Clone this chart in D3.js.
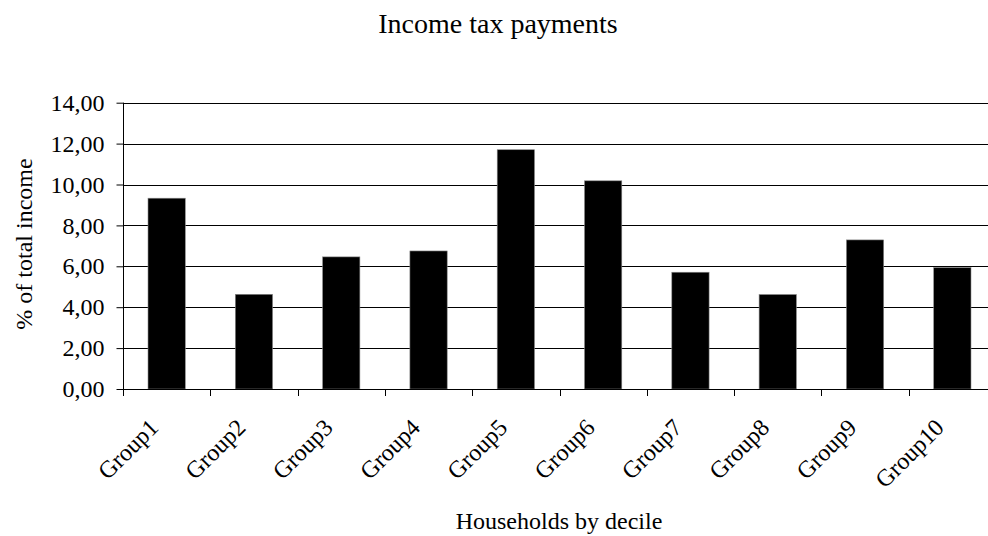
<!DOCTYPE html>
<html>
<head>
<meta charset="utf-8">
<script src="https://cdn.jsdelivr.net/npm/d3@7"></script>
<style>
  html, body { margin: 0; padding: 0; background: #fff; }
  svg { display: block; }
  svg text { font-family: 'Liberation Serif', 'Times New Roman', Times, 'DejaVu Serif', serif !important; }
</style>
</head>
<body>
<svg id="chart" width="988" height="536"></svg>
<script>
const categories = ["Group1","Group2","Group3","Group4","Group5","Group6","Group7","Group8","Group9","Group10"];
const values = [9.33, 4.63, 6.46, 6.75, 11.70, 10.18, 5.71, 4.62, 7.29, 5.94];
const yTicks = [0, 2, 4, 6, 8, 10, 12, 14];
const titleText = "Income tax payments";
const xTitle = "Households by decile";
const yTitle = "% of total income";

(function () {
const FONT = "'Liberation Serif', 'Times New Roman', Times, 'DejaVu Serif', serif";
const svg = d3.select("#chart");
const pLeft = 123, pRight = 996, pTop = 102.7, pBottom = 389;

const x = d3.scaleBand().domain(categories).range([pLeft, pRight]).paddingInner(0.573).paddingOuter(0.2865);
const y = d3.scaleLinear().domain([0, 14]).range([pBottom, pTop]);
const fmt = v => v.toFixed(2).replace(".", ",");

// gridlines
svg.append("g").selectAll("line").data(yTicks.filter(d => d > 0)).join("line")
  .attr("x1", pLeft).attr("x2", pRight)
  .attr("y1", d => Math.round(y(d)) + 0.5).attr("y2", d => Math.round(y(d)) + 0.5)
  .attr("stroke", "#000").attr("stroke-width", 1);

// bars
svg.append("g").selectAll("rect").data(values).join("rect")
  .attr("x", (d, i) => x(categories[i]))
  .attr("width", x.bandwidth())
  .attr("y", d => y(d))
  .attr("height", d => y(0) - y(d))
  .attr("fill", "#000")
  .attr("stroke", "#888").attr("stroke-width", 0.6);

// y axis
const yAxis = d3.axisLeft(y).tickValues(yTicks).tickFormat(fmt).tickSize(7).tickPadding(12);
const gy = svg.append("g").attr("transform", `translate(${pLeft + 0.5},0)`).call(yAxis)
  .attr("font-family", FONT);
gy.select(".domain").attr("stroke", "#000").attr("d", `M0,${pTop}V${pBottom + 6}`);
gy.selectAll(".tick line").attr("stroke", "#000");
gy.selectAll(".tick text").attr("font-size", 24).attr("fill", "#000")
  .attr("font-family", FONT);

// x axis
const xAxis = d3.axisBottom(x).tickSize(0).tickFormat("");
const gx = svg.append("g").attr("transform", `translate(0,${Math.round(pBottom) + 0.5})`).call(xAxis);
gx.select(".domain").attr("stroke", "#000").attr("d", `M${pLeft},0H${pRight}`);
gx.selectAll(".tick").remove();
// tick marks at band boundaries
const bounds = categories.map(c => x(c) - (x.step() - x.bandwidth()) / 2);
svg.append("g").selectAll("line").data(bounds).join("line")
  .attr("x1", d => Math.round(d) + 0.5).attr("x2", d => Math.round(d) + 0.5)
  .attr("y1", Math.round(pBottom)).attr("y2", Math.round(pBottom) + 7)
  .attr("stroke", "#000");

// x labels rotated
svg.append("g").selectAll("text").data(categories).join("text")
  .attr("transform", d => `translate(${x(d) + x.bandwidth() / 2 - 7},${pBottom + 40}) rotate(-45)`)
  .attr("text-anchor", "end")
  .attr("font-family", FONT)
  .attr("font-size", 24).attr("fill", "#000")
  .text(d => d);

// titles
svg.append("text").attr("x", 498).attr("y", 33).attr("text-anchor", "middle")
  .attr("font-family", FONT)
  .attr("font-size", 28).attr("fill", "#000").text(titleText);
svg.append("text").attr("x", 559).attr("y", 529).attr("text-anchor", "middle")
  .attr("font-family", FONT)
  .attr("font-size", 24).attr("fill", "#000").text(xTitle);
svg.append("text").attr("transform", `translate(32,244) rotate(-90)`).attr("text-anchor", "middle")
  .attr("font-family", FONT)
  .attr("font-size", 24).attr("fill", "#000").text(yTitle);
})();
</script>
</body>
</html>
